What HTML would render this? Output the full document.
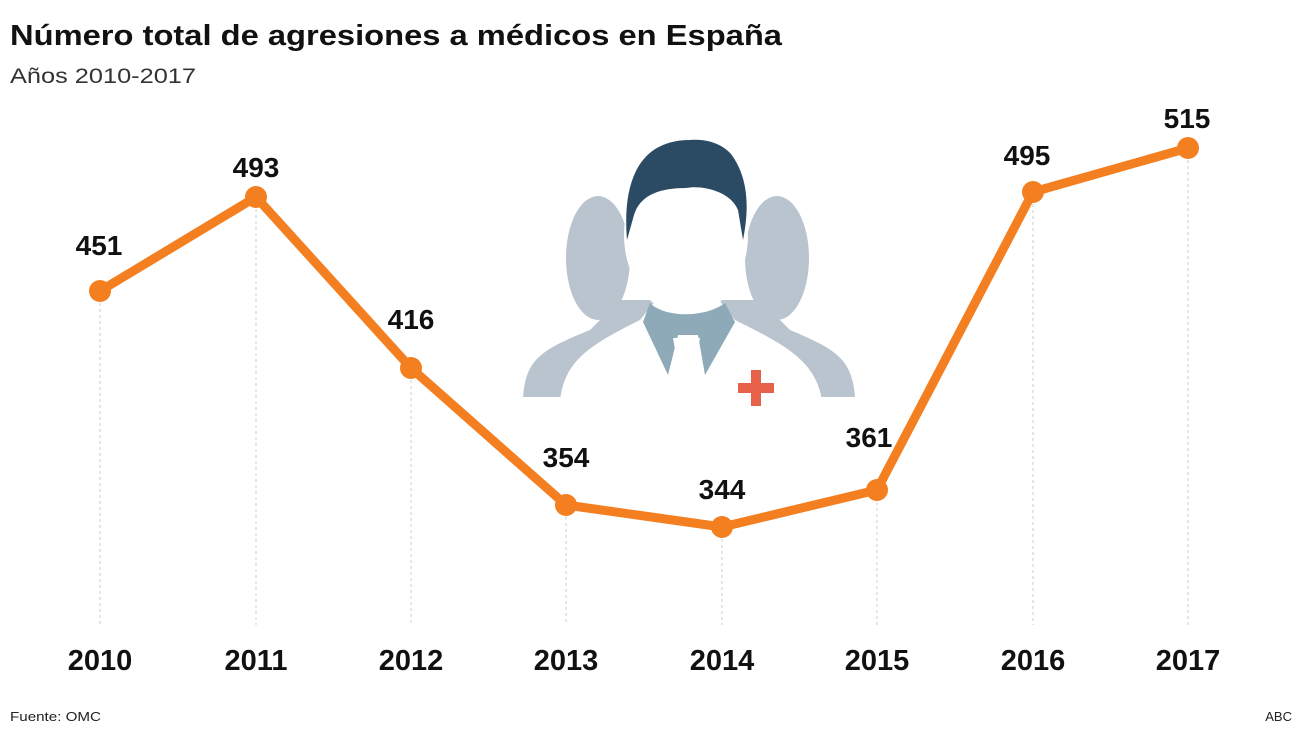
<!DOCTYPE html>
<html><head><meta charset="utf-8"><style>
body{margin:0;background:#fff;}
svg{display:block;font-family:"Liberation Sans",sans-serif;}
</style></head><body>
<svg width="1300" height="731" viewBox="0 0 1300 731">
<rect width="1300" height="731" fill="#fff"/>
<text x="10" y="45" font-size="29" font-weight="bold" fill="#111" textLength="772" lengthAdjust="spacingAndGlyphs">Número total de agresiones a médicos en España</text>
<text x="10" y="83" font-size="21" fill="#333" textLength="186" lengthAdjust="spacingAndGlyphs">Años 2010-2017</text>
<!-- icon -->
<g>
<ellipse cx="598" cy="258" rx="32" ry="62" fill="#b9c4cf"/>
<path d="M523,397 C526,360 540,350 590,330 L620,300 L660,300 L670,397 Z" fill="#b9c4cf"/>
<ellipse cx="777" cy="258" rx="32" ry="62" fill="#b9c4cf"/>
<path d="M855,397 C852,360 838,350 790,330 L760,300 L720,300 L710,397 Z" fill="#b9c4cf"/>
<path d="M560,400 C565,360 590,345 640,320 L660,295 L715,295 L735,320 C785,345 815,360 822,400 Z" fill="#fff"/>
<ellipse cx="686" cy="235" rx="62" ry="80" fill="#fff"/>
<path d="M627,240 C622,180 640,140 690,140 C715,138 730,150 735,160 C750,185 748,215 743,240 L738,210 C730,190 700,185 686,188 C660,188 640,195 634,215 Z" fill="#2b4a63"/>
<path d="M650,303 C665,318 705,318 725,303 L735,322 L705,375 L698,335 L678,335 L668,375 L643,322 Z" fill="#8ea9b8"/>
<path d="M673,338 L700,338 L693,378 L680,378 Z" fill="#fff"/>
<rect x="751" y="370" width="10" height="36" fill="#e8614a"/>
<rect x="738" y="383" width="36" height="10" fill="#e8614a"/>
</g>
<g stroke="#ccc" stroke-width="1" stroke-dasharray="3,3">
<line x1="100" y1="291" x2="100" y2="625"/><line x1="256" y1="197" x2="256" y2="625"/>
<line x1="411" y1="368" x2="411" y2="625"/><line x1="566" y1="505" x2="566" y2="625"/>
<line x1="722" y1="527" x2="722" y2="625"/><line x1="877" y1="490" x2="877" y2="625"/>
<line x1="1033" y1="192" x2="1033" y2="625"/><line x1="1188" y1="148" x2="1188" y2="625"/>
</g>
<polyline points="100,291 256,197 411,368 566,505 722,527 877,490 1033,192 1188,148" fill="none" stroke="#f47f20" stroke-width="9" stroke-linejoin="round"/>
<g fill="#f47f20">
<circle cx="100" cy="291" r="11"/><circle cx="256" cy="197" r="11"/><circle cx="411" cy="368" r="11"/><circle cx="566" cy="505" r="11"/><circle cx="722" cy="527" r="11"/><circle cx="877" cy="490" r="11"/><circle cx="1033" cy="192" r="11"/><circle cx="1188" cy="148" r="11"/>
</g>
<g font-size="28" font-weight="bold" fill="#111" text-anchor="middle">
<text x="99" y="255">451</text><text x="256" y="177">493</text><text x="411" y="329">416</text><text x="566" y="467">354</text><text x="722" y="499">344</text><text x="869" y="447">361</text><text x="1027" y="165">495</text><text x="1187" y="128">515</text>
</g>
<g font-size="29" font-weight="bold" fill="#111" text-anchor="middle">
<text x="100" y="670">2010</text><text x="256" y="670">2011</text><text x="411" y="670">2012</text><text x="566" y="670">2013</text><text x="722" y="670">2014</text><text x="877" y="670">2015</text><text x="1033" y="670">2016</text><text x="1188" y="670">2017</text>
</g>
<text x="10" y="721" font-size="13" fill="#222" textLength="91" lengthAdjust="spacingAndGlyphs">Fuente: OMC</text>
<text x="1292" y="721" font-size="13" fill="#222" text-anchor="end">ABC</text>
</svg>
</body></html>
